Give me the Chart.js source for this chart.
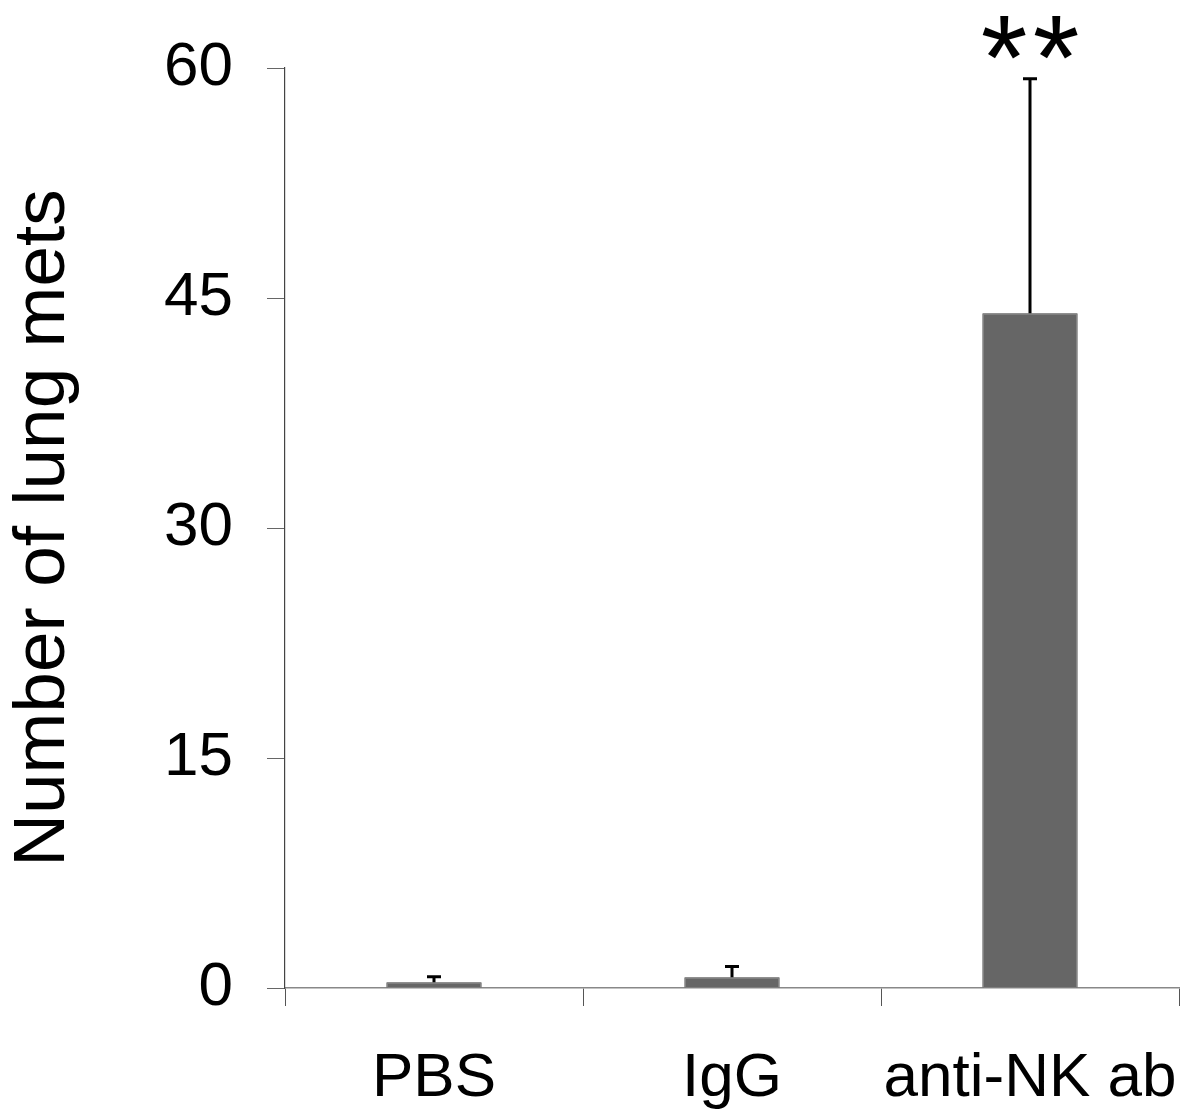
<!DOCTYPE html>
<html>
<head>
<meta charset="utf-8">
<script src="https://cdn.jsdelivr.net/npm/chart.js@4.4.1/dist/chart.umd.min.js"></script>
<style>
  html, body { margin: 0; padding: 0; background: #fff; }
  #wrap { width: 1196px; height: 1116px; }
</style>
</head>
<body>
<div id="wrap"><canvas id="c" width="1196" height="1116"></canvas></div>
<script>
  // values
  const groups = ["PBS", "IgG", "anti-NK ab"];
  const meanMets = [0.37, 0.7, 44.0];
  const errUp = [0.37, 0.71, 15.3];
  const marks = ["", "", "**"];
  const yTicks = [0, 15, 30, 45, 60];

  const FONT = "'Liberation Sans', Arial, Helvetica, sans-serif";

  // upward-only error bars + significance stars, drawn through the scales
  const errorBars = {
    id: "errorBars",
    afterDatasetsDraw(chart) {
      const ctx = chart.ctx, y = chart.scales.y;
      const meta = chart.getDatasetMeta(0);
      ctx.save();
      meta.data.forEach((bar, i) => {
        const x = bar.x;
        const y0 = y.getPixelForValue(meanMets[i]);
        const y1 = y.getPixelForValue(meanMets[i] + errUp[i]);
        ctx.strokeStyle = "#000";
        ctx.lineWidth = 3;
        ctx.beginPath();
        ctx.moveTo(x, y0); ctx.lineTo(x, y1);
        ctx.moveTo(x - 7, y1); ctx.lineTo(x + 7, y1);
        ctx.stroke();
        if (marks[i]) {
          // stars spaced apart like the original
          const chars = marks[i].split("");
          const gap = 52;
          ctx.fillStyle = "#000";
          ctx.font = "120px " + FONT;
          ctx.textAlign = "center";
          ctx.textBaseline = "alphabetic";
          chars.forEach((ch, k) => {
            ctx.fillText(ch, x + (k - (chars.length - 1) / 2) * gap, y1 + 20);
          });
        }
      });
      ctx.restore();
    }
  };

  new Chart(document.getElementById("c"), {
    type: "bar",
    data: {
      labels: groups,
      datasets: [{
        data: meanMets,
        backgroundColor: "#666666",
        borderColor: "#3c3c3c",
        borderWidth: 1,
        categoryPercentage: 1,
        barPercentage: 0.32,
      }]
    },
    options: {
      responsive: false,
      animation: false,
      layout: { padding: { top: 68, right: 17, left: 0, bottom: 0 } },
      plugins: { legend: { display: false }, tooltip: { enabled: false } },
      scales: {
        x: {
          grid: { drawOnChartArea: false, drawTicks: true, tickLength: 18, color: "#555", offset: true },
          border: { color: "#888", width: 1.5 },
          ticks: {
            color: "#000", padding: 36, autoSkip: false, maxRotation: 0, minRotation: 0,
            font: { family: FONT, size: 62 }
          },
          afterFit(s) { s.height = 128; s.paddingLeft = 0; s.paddingRight = 0; }
        },
        y: {
          min: 0, max: 60,
          afterBuildTicks(s) { s.ticks = yTicks.map(v => ({ value: v })); },
          grid: { drawOnChartArea: false, drawTicks: true, tickLength: 18, color: "#666" },
          border: { color: "#444", width: 1.2 },
          ticks: { color: "#000", padding: 34, font: { family: FONT, size: 62 } },
          title: {
            display: true, text: "Number of lung mets", color: "#000",
            padding: 0, font: { family: FONT, size: 73 }
          },
          afterFit(s) { s.width = 285; s.paddingTop = 0; s.paddingBottom = 0; }
        }
      }
    },
    plugins: [errorBars]
  });
</script>
</body>
</html>
